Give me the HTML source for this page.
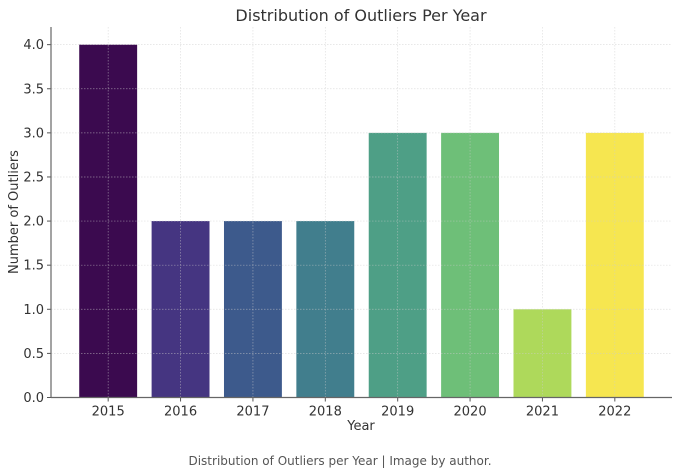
<!DOCTYPE html>
<html><head><meta charset="utf-8"><style>
body{margin:0;background:#fff;}
svg{display:block;font-family:"DejaVu Sans","Liberation Sans",sans-serif;}
</style></head><body>
<svg id="chart" width="680" height="471">
<text x="361" y="21" text-anchor="middle" font-size="16" fill="#333">Distribution of Outliers Per Year</text>
<text x="361" y="430" text-anchor="middle" font-size="13" fill="#333">Year</text>
<text transform="translate(18,212) rotate(-90)" text-anchor="middle" font-size="13" fill="#333">Number of Outliers</text>
<text x="340" y="465" text-anchor="middle" font-size="12" fill="#555">Distribution of Outliers per Year | Image by author.</text>
<g id="bars"></g><g id="grid"></g><g id="axes"></g>
</svg>
<script>
const categories=["2015","2016","2017","2018","2019","2020","2021","2022"];
const values=[4,2,2,2,3,3,1,3];
const colors=["#3b0a4f","#453581","#3d5a8c","#417e8d","#4e9f86","#6ebf78","#aed95b","#f6e650"];
const yTicks=[0,0.5,1,1.5,2,2.5,3,3.5,4];
const yTickLabels=["0.0","0.5","1.0","1.5","2.0","2.5","3.0","3.5","4.0"];
const L=51,R=672,T=27,B=397.5,yMax=4.2;
const n=categories.length;
const xmin=-0.79,xmax=n-1+0.79;
const X=i=>L+(i-xmin)/(xmax-xmin)*(R-L);
const Y=v=>B-v/yMax*(B-T);
const NS="http://www.w3.org/2000/svg";
function mk(tag,attrs,parent){const e=document.createElementNS(NS,tag);for(const k in attrs)e.setAttribute(k,attrs[k]);parent.appendChild(e);return e;}
const gb=document.getElementById('bars'),gg=document.getElementById('grid'),ga=document.getElementById('axes');
const bw=X(0.4)-X(-0.4);
values.forEach((v,i)=>{
 const r=mk('rect',{x:X(i)-bw/2,y:Y(v),width:bw,height:B-Y(v),fill:colors[i]},gb);
 
 
});
yTicks.forEach((t,i)=>{
 const l=mk('line',{x1:L,x2:R,y1:Y(t),y2:Y(t),stroke:"#ccc","stroke-width":0.7,"stroke-dasharray":"1.5,1.5",opacity:0.6},gg);
 
 
 mk('line',{x1:L-4,x2:L,y1:Y(t),y2:Y(t),stroke:"#555"},ga);
 const tx=mk('text',{x:L-7,y:Y(t)+4.5,"text-anchor":"end","font-size":"13",fill:"#333"},ga);
 tx.textContent=yTickLabels[i];
 
 
});
categories.forEach((c,i)=>{
 const l=mk('line',{x1:X(i),x2:X(i),y1:T,y2:B,stroke:"#ccc","stroke-width":0.7,"stroke-dasharray":"1.5,1.5",opacity:0.6},gg);
 
 
 mk('line',{x1:X(i),x2:X(i),y1:B,y2:B+4,stroke:"#555"},ga);
 const tx=mk('text',{x:X(i),y:B+18,"text-anchor":"middle","font-size":"13",fill:"#333"},ga);
 tx.textContent=c;
 
 
});
const ax=mk('line',{x1:L,x2:L,y1:T,y2:B,stroke:"#666","stroke-width":1.2},ga);


const bx=mk('line',{x1:L,x2:R,y1:B,y2:B,stroke:"#666","stroke-width":1.2},ga);


</script>
</body></html>
